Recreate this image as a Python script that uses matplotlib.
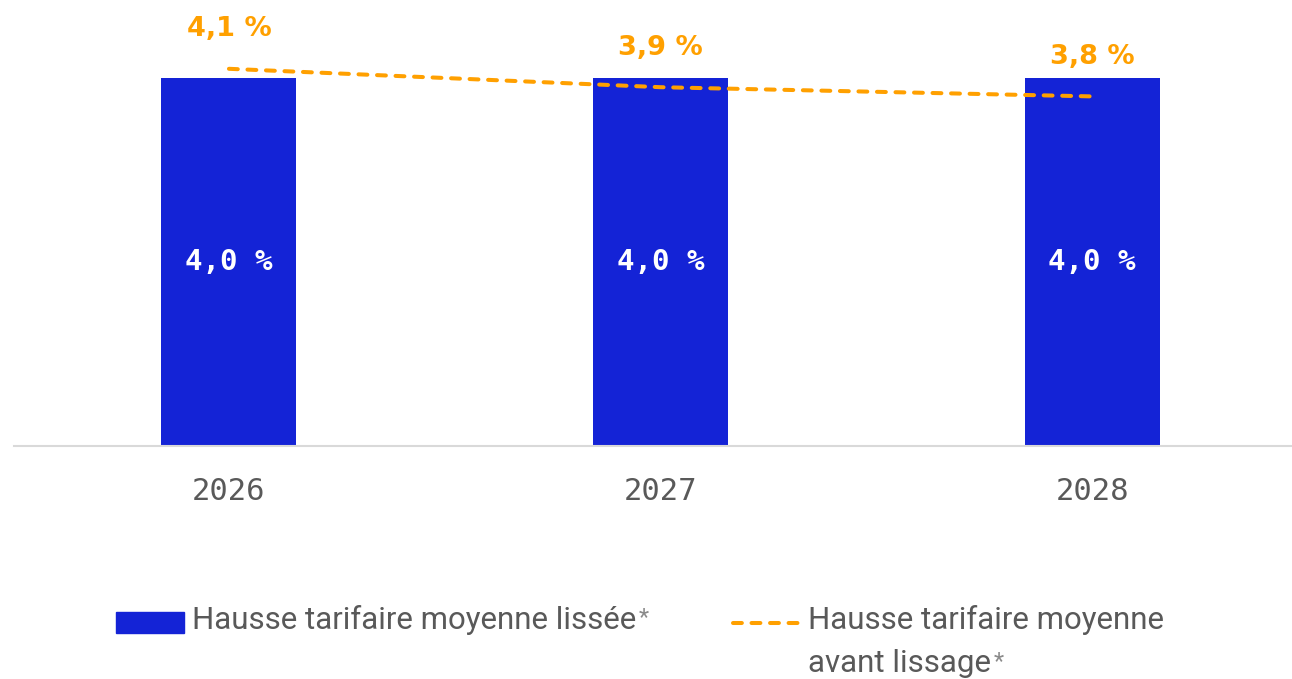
import matplotlib
matplotlib.use("Agg")
import matplotlib.pyplot as plt
from matplotlib.patches import Rectangle
from matplotlib.lines import Line2D

years = ["2026", "2027", "2028"]
smoothed = [4.0, 4.0, 4.0]
before = [4.1, 3.9, 3.8]
smoothed_labels = ["4,0 %", "4,0 %", "4,0 %"]
before_labels = ["4,1 %", "3,9 %", "3,8 %"]
legend_labels = ["Hausse tarifaire moyenne lissée", "Hausse tarifaire moyenne\navant lissage"]

BLUE = "#1423d6"
ORANGE = "#ffa000"
GRAY = "#595959"
LEG_FS = 22.5

fig = plt.figure(figsize=(12.92, 6.79), dpi=100)
ax = fig.add_axes([14/1292, 233/679, 1 - 14/1292, 446/679])

x = list(range(len(years)))
ax.bar(x, smoothed, width=0.313, color=BLUE, zorder=2)
ax.plot(x, before, color=ORANGE, lw=2.9, dashes=(2.2, 2.4), dash_capstyle="round", zorder=3)

for xi, v, lab in zip(x, smoothed, smoothed_labels):
    ax.text(xi, v / 2, lab, ha="center", va="center", color="white",
            fontsize=21, fontweight="bold", family="DejaVu Sans Mono", zorder=4)
for xi, v, lab in zip(x, before, before_labels):
    ax.annotate(lab, (xi, v), xytext=(0, 28.5), textcoords="offset points",
                ha="center", va="center", color=ORANGE, fontsize=19.5,
                fontweight="bold", family="DejaVu Sans", zorder=4)

ax.set_xlim(-0.498, 2.463)
ax.set_ylim(0, 446/92)
ax.set_xticks(x)
ax.set_xticklabels(years, family="DejaVu Sans Mono", fontsize=22, color=GRAY)
ax.tick_params(axis="x", length=0, pad=22.5)
ax.set_yticks([])
for s in ["top", "right", "left"]:
    ax.spines[s].set_visible(False)
ax.spines["bottom"].set_color("#d9d9d9")
ax.spines["bottom"].set_linewidth(1.5)

# legend drawn manually
W, H = 1292, 679
fig.add_artist(Rectangle((116/W, 1 - 633/H), 68/W, 21/H, transform=fig.transFigure,
                         color=BLUE))
t1 = fig.text(192/W, 1 - 620/H, legend_labels[0], ha="left", va="center",
              fontsize=LEG_FS, color=GRAY, family="Roboto")
fig.add_artist(Line2D([733/W, 798/W], [1 - 623/H, 1 - 623/H], transform=fig.transFigure,
                      color=ORANGE, lw=2.9, dashes=(2.2, 2.4), dash_capstyle="round"))
l1, l2 = legend_labels[1].split("\n")
fig.text(808/W, 1 - 620/H, l1, ha="left", va="center",
         fontsize=LEG_FS, color=GRAY, family="Roboto")
t2 = fig.text(808/W, 1 - 663/H, l2, ha="left", va="center",
              fontsize=LEG_FS, color=GRAY, family="Roboto")
for t in (t1, t2):
    fig.add_artist(matplotlib.text.Annotation("*", xy=(1, 1), xycoords=t,
                                              xytext=(2, -1), textcoords="offset points",
                                              ha="left", va="top", fontsize=17,
                                              color="#8a8a8a", family="Roboto"))

fig.savefig("out.png", dpi=100)
